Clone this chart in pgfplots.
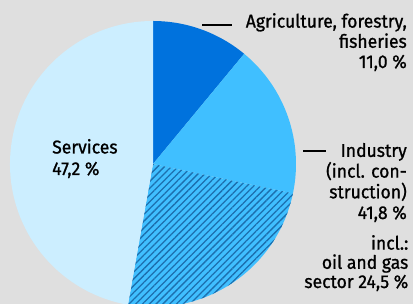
\documentclass[border=0pt]{standalone}
\usepackage{fontspec}
\setmainfont{Fira Sans}[FakeStretch=0.95, FakeBold=1]
\usepackage{pgfplots}
\usepackage{pgfplotstable}
\pgfplotsset{compat=1.18}
\usetikzlibrary{patterns.meta}
\definecolor{bg}{HTML}{DFDFDF}
\definecolor{agri}{HTML}{0072DD}
\definecolor{indu}{HTML}{40BFFF}
\definecolor{serv}{HTML}{CCEEFF}
\definecolor{hatch}{HTML}{1C6FAE}
\pgfplotstableread{
name share
agri 11.0
indu 17.3
oil  24.5
serv 47.2
}\piedata
\begin{document}
\begin{tikzpicture}[x=1pt,y=1pt]
\useasboundingbox (0,0) rectangle (413,304);
\fill[bg] (0,0) rectangle (413,304);
\begin{axis}[
  at={(0,0)}, anchor=origin,
  x=1pt, y=1pt,
  xmin=0, xmax=413, ymin=0, ymax=304,
  hide axis, clip=true,
]
\def\cx{153}\def\cy{140}\def\R{143}
\pgfplotstablegetelem{0}{share}\of\piedata \let\sA\pgfplotsretval
\pgfplotstablegetelem{1}{share}\of\piedata \let\sB\pgfplotsretval
\pgfplotstablegetelem{2}{share}\of\piedata \let\sC\pgfplotsretval
\pgfplotstablegetelem{3}{share}\of\piedata \let\sD\pgfplotsretval
\pgfmathsetmacro\aA{90}
\pgfmathsetmacro\aB{\aA-3.6*\sA}
\pgfmathsetmacro\aC{\aB-3.6*\sB}
\pgfmathsetmacro\aD{\aC-3.6*\sC}
\pgfmathsetmacro\aE{\aD-3.6*\sD}
\fill[agri] (axis cs:\cx,\cy) -- ++(\aA:\R) arc[start angle=\aA, end angle=\aB, radius=\R] -- cycle;
\fill[indu] (axis cs:\cx,\cy) -- ++(\aB:\R) arc[start angle=\aB, end angle=\aC, radius=\R] -- cycle;
\fill[indu] (axis cs:\cx,\cy) -- ++(\aC:\R) arc[start angle=\aC, end angle=\aD, radius=\R] -- cycle;
\fill[pattern={Lines[angle=45, distance=4.8pt, line width=1.3pt]}, pattern color=hatch] (axis cs:\cx,\cy) -- ++(\aC:\R) arc[start angle=\aC, end angle=\aD, radius=\R] -- cycle;
\fill[serv] (axis cs:\cx,\cy) -- ++(\aD:\R) arc[start angle=\aD, end angle=\aE, radius=\R] -- cycle;
\end{axis}
\draw[line width=1.5pt] (202,279) -- (232,279);
\draw[line width=1.5pt] (303,153) -- (326,153);
\node[anchor=base east, align=right, font=\fontsize{18.5}{20.2}\selectfont, inner sep=0pt] at (407,236)
  {Agriculture, forestry,\\fisheries\\11,0 \%};
\node[anchor=base east, align=right, font=\fontsize{18.5}{20.7}\selectfont, inner sep=0pt] at (407,85)
  {Industry\\(incl. con-\\struction)\\41,8 \%};
\node[anchor=base east, align=right, font=\fontsize{18.5}{19.2}\selectfont, inner sep=0pt] at (408.5,16)
  {incl.:\\oil and gas\\sector 24,5 \%};
\node[anchor=base west, align=left, font=\fontsize{18.5}{21.5}\selectfont, inner sep=0pt] at (52,129)
  {Services\\47,2 \%};
\end{tikzpicture}
\end{document}
